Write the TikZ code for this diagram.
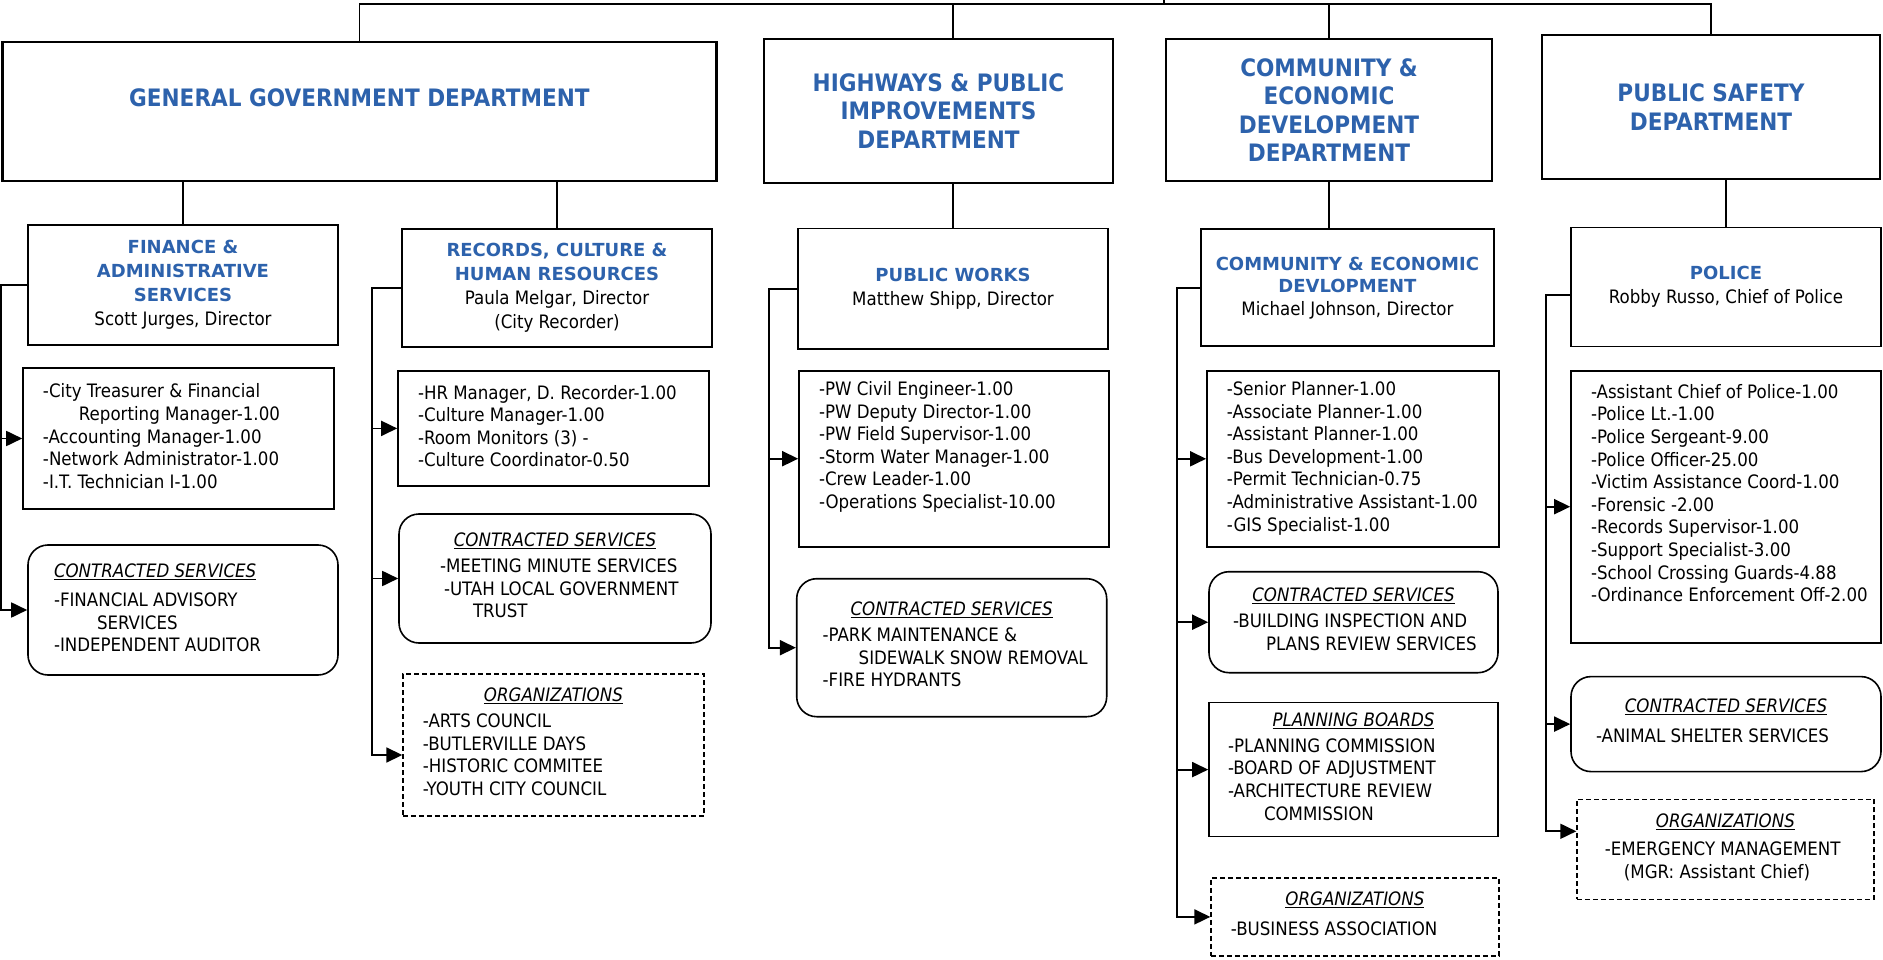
\documentclass[tikz,border=0pt]{standalone}
\usepackage{fontspec}
\setmainfont{DejaVu Sans Condensed}
\newfontfamily\widefont{DejaVu Sans}
\usetikzlibrary{calc,arrows.meta}
\definecolor{hdblue}{RGB}{45,98,172}
\newcommand{\divtitle}[1]{{\widefont\bfseries\fontsize{18}{24}\selectfont\color{hdblue}#1}}
\newcommand{\boxtitle}[1]{\underline{\textit{#1}}}
\newcommand{\stafflist}[3]{\makebox[#1][l]{\hspace*{#2}\begin{tabular}{@{}l@{}}#3\end{tabular}}}

\begin{document}
\begin{tikzpicture}[x=1pt,y=-1pt,>={Triangle[length=16pt,width=15pt]},
  dept/.style={draw,line width=2.4pt,align=center,text=hdblue,inner sep=0pt,
    font=\bfseries\fontsize{24}{28.5}\selectfont},
  div/.style={draw,line width=1.6pt,align=center,inner sep=0pt,
    font=\fontsize{18.5}{24}\selectfont},
  list/.style={draw,line width=1.6pt,align=center,inner sep=0pt,
    font=\fontsize{18.5}{22.6}\selectfont},
  contract/.style={list,rounded corners=20pt},
  orgs/.style={list,line width=1.2pt,dash pattern=on 5pt off 3pt},
  link/.style={line width=1.8pt}]
                \useasboundingbox (0,0) rectangle (1883,960);

                \node[dept,minimum width=714pt,minimum height=139pt] (gg) at (359.4,111.7) {\raisebox{28pt}{GENERAL GOVERNMENT DEPARTMENT}};
                \node[dept,minimum width=349pt,minimum height=144pt] (hw) at (938.5,110.9) {HIGHWAYS \& PUBLIC\\IMPROVEMENTS\\DEPARTMENT};
                \node[dept,minimum width=326pt,minimum height=142pt] (cd) at (1329,110) {COMMUNITY \&\\ECONOMIC\\DEVELOPMENT\\DEPARTMENT};
                \node[dept,minimum width=338pt,minimum height=144pt] (ps) at (1711,107) {PUBLIC SAFETY\\DEPARTMENT};

                \node[div,minimum width=310pt,minimum height=120pt] (fin) at (183,285) {\divtitle{FINANCE \&}\\\divtitle{ADMINISTRATIVE}\\\divtitle{SERVICES}\\Scott Jurges, Director};
                \node[div,minimum width=310pt,minimum height=118pt] (rec) at (557,288) {\divtitle{RECORDS, CULTURE \&}\\\divtitle{HUMAN RESOURCES}\\Paula Melgar, Director\\(City Recorder)};
                \node[div,minimum width=310pt,minimum height=120pt] (pw) at (953,288.7) {\divtitle{PUBLIC WORKS}\\Matthew Shipp, Director};
                \node[div,font=\fontsize{18.5}{22.5}\selectfont,minimum width=293pt,minimum height=117pt] (cedd) at (1347.4,287.7) {\divtitle{COMMUNITY \& ECONOMIC}\\\divtitle{DEVLOPMENT}\\Michael Johnson, Director};
                \node[div,minimum width=310pt,minimum height=119pt] (pol) at (1726,287) {\divtitle{POLICE}\\Robby Russo, Chief of Police};

                \node[list,minimum height=141pt] (finstaff) at (178.5,438.5) {\stafflist{311pt}{20pt}{-City Treasurer \& Financial\\\hspace*{36pt}Reporting Manager-1.00\\-Accounting Manager-1.00\\-Network Administrator-1.00\\-I.T. Technician I-1.00}};
                \node[contract,minimum height=130pt] (fincon) at (183,610) {\stafflist{310pt}{26pt}{\boxtitle{CONTRACTED SERVICES}\\[7pt]-FINANCIAL ADVISORY\\\hspace*{43pt}SERVICES\\-INDEPENDENT AUDITOR}};

                \node[list,minimum height=115pt] (recstaff) at (553.5,428.4) {\stafflist{311pt}{20pt}{-HR Manager, D. Recorder-1.00\\-Culture Manager-1.00\\-Room Monitors (3) -\\-Culture Coordinator-0.50}};
                \node[contract,minimum height=129pt] (reccon) at (555,578.5) {\boxtitle{CONTRACTED SERVICES}\\[7pt]\stafflist{312pt}{41pt}{-MEETING MINUTE SERVICES\\\hspace*{4pt}-UTAH LOCAL GOVERNMENT\\\hspace*{33pt}TRUST}};
                \node[orgs,minimum height=142pt] (recorg) at (553.4,745) {\boxtitle{ORGANIZATIONS}\\[7pt]\stafflist{301pt}{20pt}{-ARTS COUNCIL\\-BUTLERVILLE DAYS\\-HISTORIC COMMITEE\\-YOUTH CITY COUNCIL}};

                \node[list,minimum height=176pt] (pwstaff) at (954,458.7) {\stafflist{310pt}{20pt}{-PW Civil Engineer-1.00\\-PW Deputy Director-1.00\\-PW Field Supervisor-1.00\\-Storm Water Manager-1.00\\-Crew Leader-1.00\\-Operations Specialist-10.00\\ \mbox{}}};
                \node[contract,minimum height=138pt] (pwcon) at (951.7,647.7) {\boxtitle{CONTRACTED SERVICES}\\[7pt]\stafflist{310pt}{26pt}{-PARK MAINTENANCE \&\\\hspace*{36pt}SIDEWALK SNOW REMOVAL\\-FIRE HYDRANTS}};

                \node[list,minimum height=176pt] (cedstaff) at (1352.9,458.8) {\stafflist{292pt}{20pt}{-Senior Planner-1.00\\-Associate Planner-1.00\\-Assistant Planner-1.00\\-Bus Development-1.00\\-Permit Technician-0.75\\-Administrative Assistant-1.00\\-GIS Specialist-1.00}};
                \node[contract,minimum height=101pt] (cedcon) at (1353.5,622.2) {\boxtitle{CONTRACTED SERVICES}\\[7pt]\stafflist{289pt}{24pt}{-BUILDING INSPECTION AND\\\hspace*{33pt}PLANS REVIEW SERVICES}};
                \node[list,minimum height=134pt] (cedbrd) at (1353.5,769.6) {\boxtitle{PLANNING BOARDS}\\[7pt]\stafflist{289pt}{19pt}{-PLANNING COMMISSION\\-BOARD OF ADJUSTMENT\\-ARCHITECTURE REVIEW\\\hspace*{36pt}COMMISSION}};
                \node[orgs,minimum height=78pt] (cedorg) at (1354.9,916.9) {\boxtitle{ORGANIZATIONS}\\[7pt]\stafflist{288pt}{20pt}{-BUSINESS ASSOCIATION}};

                \node[list,minimum height=272pt] (polstaff) at (1726,506.7) {\stafflist{310pt}{20pt}{-Assistant Chief of Police-1.00\\-Police Lt.-1.00\\-Police Sergeant-9.00\\-Police Officer-25.00\\-Victim Assistance Coord-1.00\\-Forensic -2.00\\-Records Supervisor-1.00\\-Support Specialist-3.00\\-School Crossing Guards-4.88\\-Ordinance Enforcement Off-2.00\\ \mbox{}}};
                \node[contract,minimum height=95pt] (polcon) at (1726,724.1) {\boxtitle{CONTRACTED SERVICES}\\[7pt]\stafflist{310pt}{25pt}{-ANIMAL SHELTER SERVICES}};
                \node[orgs,minimum height=100pt] (polorg) at (1725.4,849.3) {\boxtitle{ORGANIZATIONS}\\[9pt]\stafflist{297pt}{28pt}{-EMERGENCY MANAGEMENT\\\hspace*{19pt}(MGR: Assistant Chief)}};

                \coordinate (bus) at (1164,4);
                \coordinate (ceo) at (1164,0);
                \draw[link] (ceo) -- (bus);
                \draw[link] (gg.north) |- (bus) -| (ps.north);
                \draw[link] (pw.north |- bus) -- (pw.north |- hw.north);
                \draw[link] (cd.north |- bus) -- (cd.north);

                \draw[link] (gg.south -| fin.north) -- (fin.north);
                \draw[link] (gg.south -| rec.north) -- (rec.north);
                \draw[link] (hw.south -| pw.north) -- (pw.north);
                \draw[link] (cd.south) -- (cd.south |- cedd.north);
                \draw[link] (ps.south -| pol.north) -- (pol.north);

                \draw[link,->] (fin.west) -- ++(-26,0) |- (finstaff.west);
                \draw[link,->] (fin.west) -- ++(-26,0) |- (fincon.west);

                \draw[link,->] (rec.west) -- ++(-29,0) |- (recstaff.west);
                \draw[link,->] (rec.west) -- ++(-29,0) |- (reccon.west);
                \draw[link,->] (rec.west) -- ++(-29,0) |- ($(recorg.west)+(0,10)$);

                \draw[link,->] (pw.west) -- ++(-28,0) |- (pwstaff.west);
                \draw[link,->] (pw.west) -- ++(-28,0) |- (pwcon.west);

                \draw[link,->] (cedd.west) -- ++(-23,0) |- (cedstaff.west);
                \draw[link,->] (cedd.west) -- ++(-23,0) |- (cedcon.west);
                \draw[link,->] (cedd.west) -- ++(-23,0) |- (cedbrd.west);
                \draw[link,->] (cedd.west) -- ++(-23,0) |- (cedorg.west);

                \draw[link,->] ($(pol.west)+(0,8)$) -- ++(-24,0) |- (polstaff.west);
                \draw[link,->] ($(pol.west)+(0,8)$) -- ++(-24,0) |- (polcon.west);
                \draw[link,->] ($(pol.west)+(0,8)$) -- ++(-24,0) |- ($(polorg.west)+(0,-18)$);
\end{tikzpicture}
\end{document}
